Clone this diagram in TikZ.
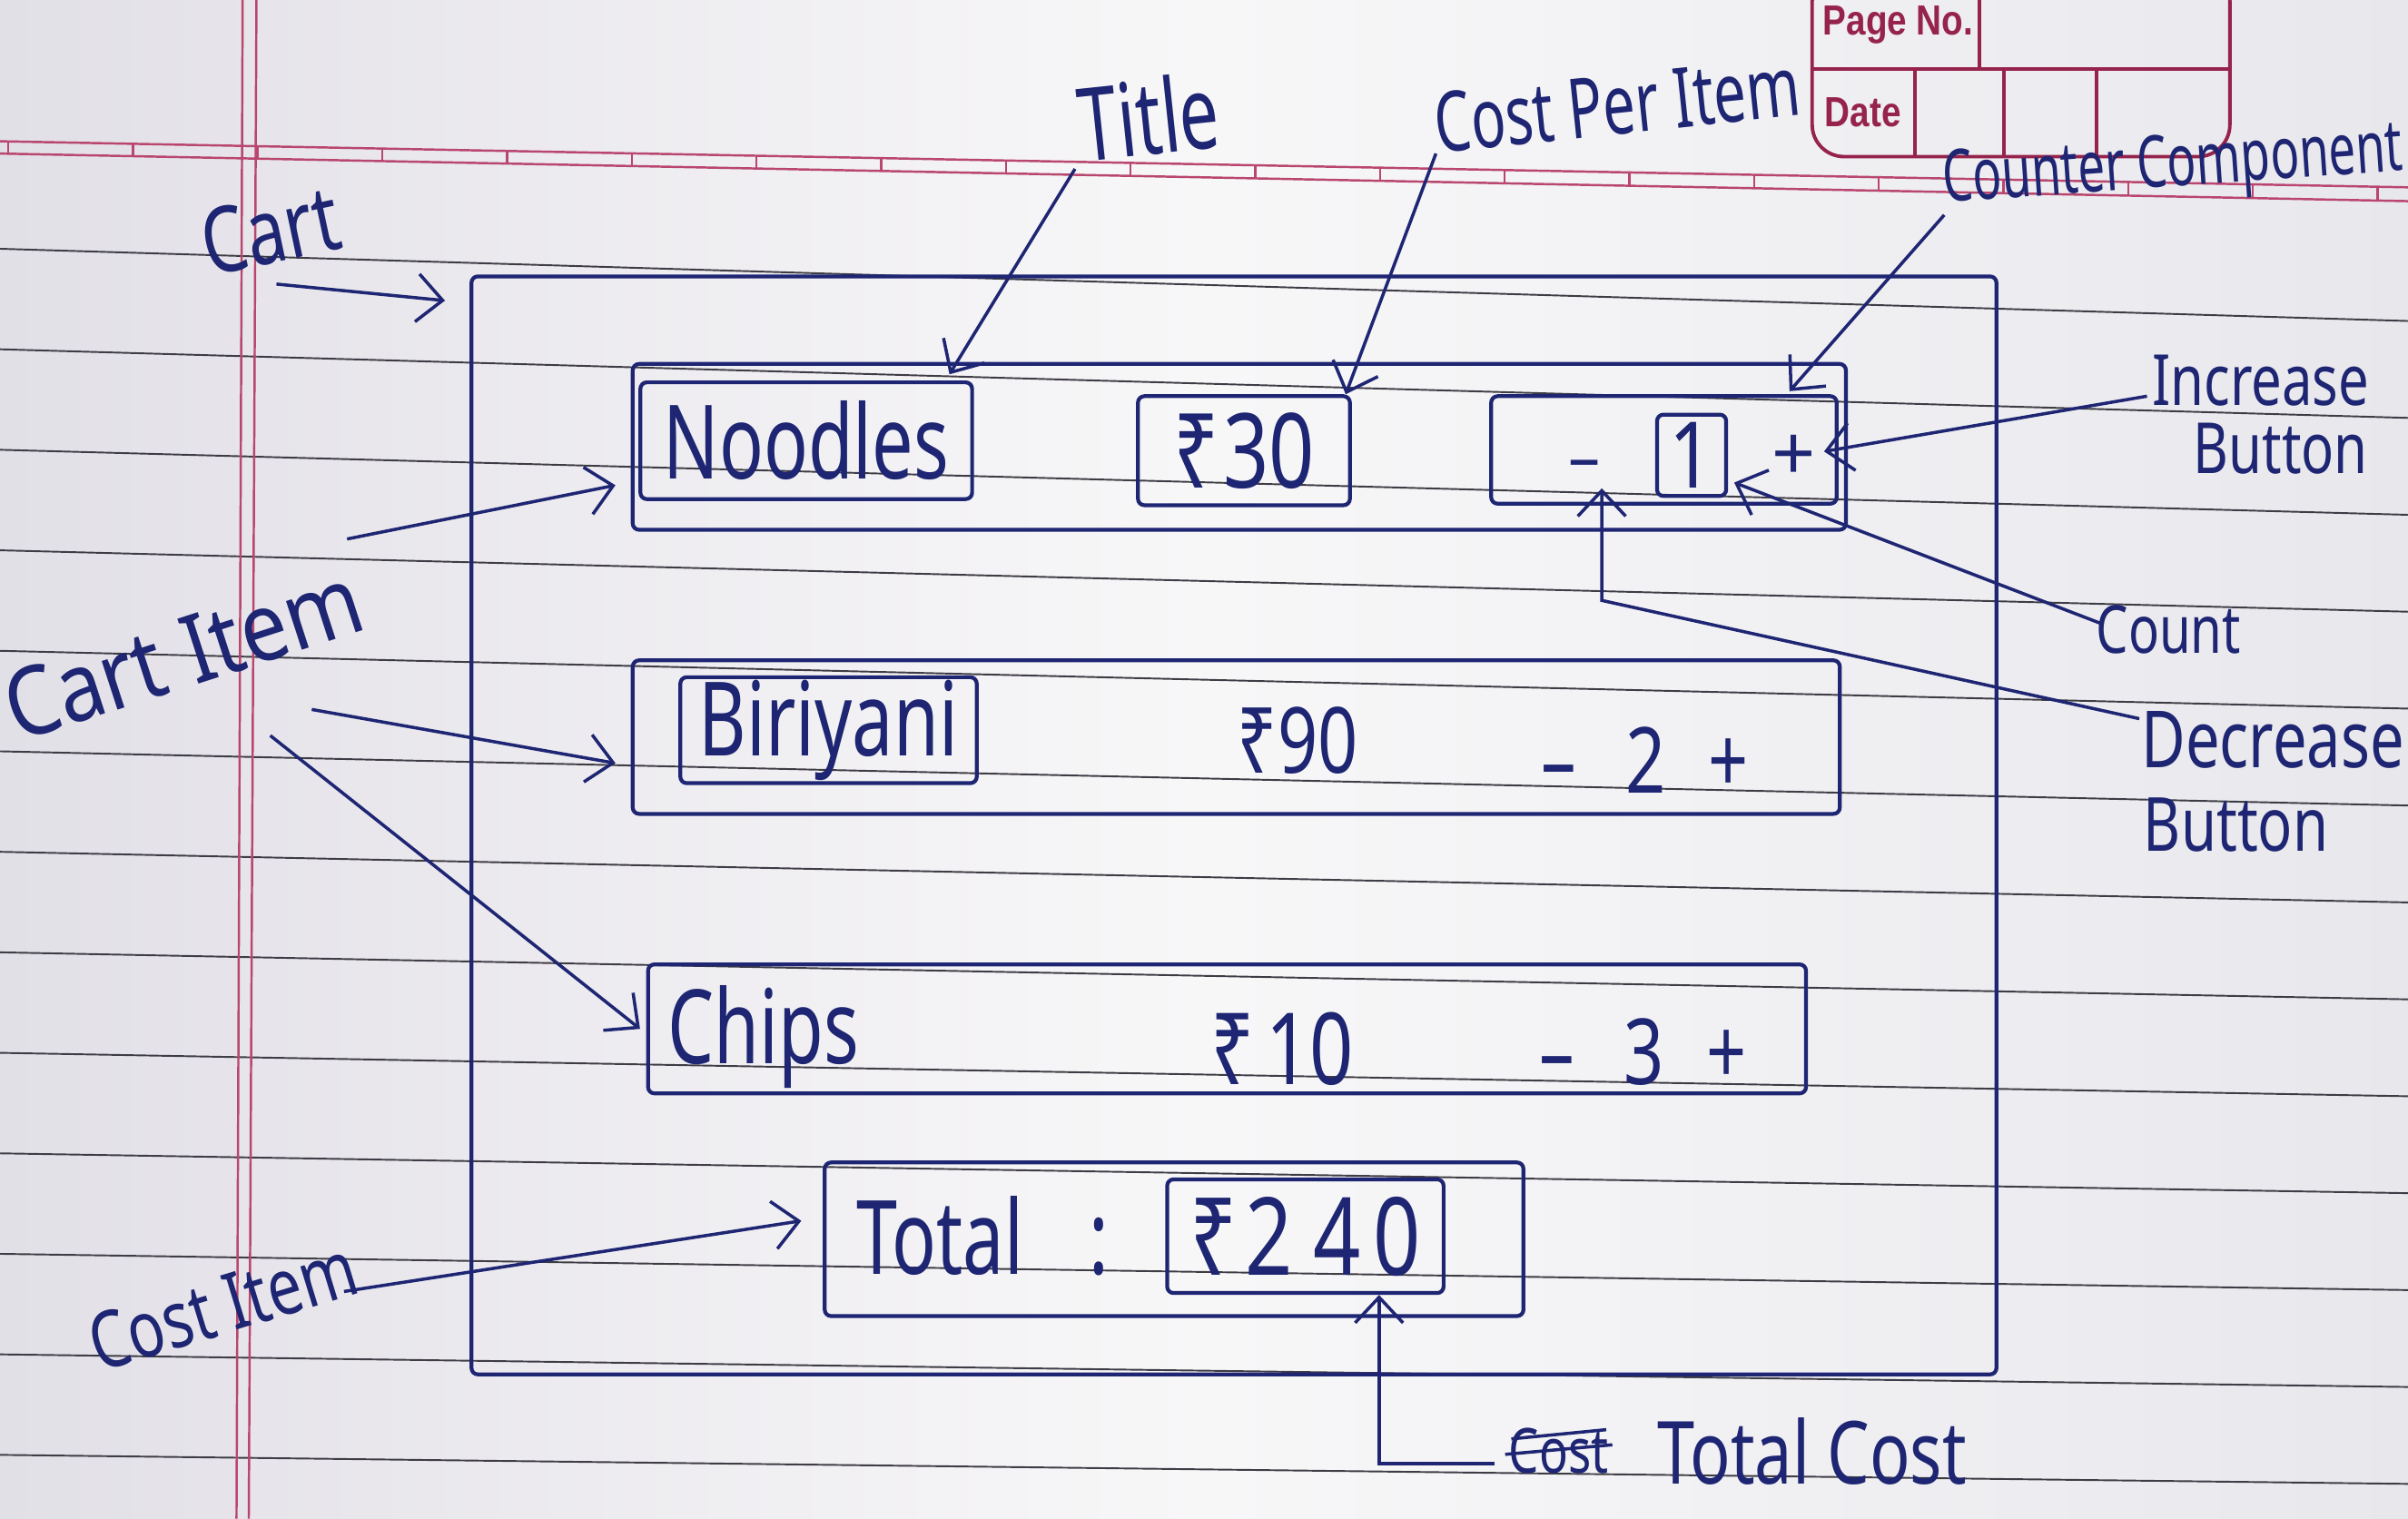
\documentclass[tikz,border=0pt]{standalone}
\usepackage{graphicx}
\usepackage{fontspec}
\setmainfont{Noto Sans}
\newfontfamily\hdrfont{Liberation Sans}
\usetikzlibrary{arrows.meta,fit,calc}
\definecolor{ink}{RGB}{30,38,115}
\definecolor{ruleline}{RGB}{62,60,68}
\definecolor{redline}{RGB}{185,70,110}
\definecolor{hdr}{RGB}{150,35,75}
\definecolor{paperL}{RGB}{226,224,231}
\definecolor{paperM}{RGB}{248,247,248}
\definecolor{paperR}{RGB}{232,231,236}
\newcommand{\tallt}[2][1.3]{\scalebox{1}[#1]{#2}}
\newcommand{\fsz}[1]{\fontsize{#1}{#1}\selectfont}
\begin{document}
\begin{tikzpicture}[x=0.016913cm, y=-0.016913cm,
  inkbox/.style={draw=ink, line width=1.2pt, inner sep=0pt, rounded corners=2pt},
  handtext/.style={text=ink, inner sep=1pt},
  conn/.style={draw=ink, line width=1pt},
  arrowconn/.style={conn, -{Straight Barb[length=8pt,width=15pt,line width=1pt]}},
  paperrule/.style={draw=ruleline, line width=0.55pt},
  marginline/.style={draw=redline, line width=0.7pt},
  hdrline/.style={draw=hdr, line width=1.1pt}]
\useasboundingbox (0,0) rectangle (1568,989);
% paper
\shade[left color=paperL, right color=paperR, middle color=paperM] (0,0) rectangle (1568,989);
\foreach \k in {0,...,12}{
  \pgfmathsetmacro{\s}{0.03-0.0015*\k}
  \pgfmathsetmacro{\ya}{165+65.3*\k-100*\s}
  \pgfmathsetmacro{\yb}{\ya+1568*\s}
  \draw[paperrule] (0,\ya) -- (1568,\yb);
}
\draw[marginline] (0,92) -- (1568,122);
\draw[marginline] (0,100) -- (1568,131);
\foreach \t in {5.4,86.6,...,1560}{
  \draw[marginline] (\t,{92+0.01913*\t}) -- (\t,{100+0.01977*\t});
}
\draw[marginline] (158,0) -- (154,989);
\draw[marginline] (167,0) -- (162,989);
% page no / date box
\draw[hdrline, rounded corners=10pt] (1180,-20) rectangle (1452,102);
\draw[hdrline] (1180,45) -- (1452,45);
\draw[hdrline] (1289,-20) -- (1289,45);
\draw[hdrline] (1247,45) -- (1247,102);
\draw[hdrline] (1305,45) -- (1305,102);
\draw[hdrline] (1365,45) -- (1365,102);
\node[text=hdr, font=\hdrfont\bfseries\fsz{11}, inner sep=0pt] (pageno) at (1236,16) {\tallt[1.2]{Page No.}};
\node[text=hdr, font=\hdrfont\bfseries\fsz{11}, inner sep=0pt] (datelbl) at (1213,73) {\tallt[1.2]{Date}};

% boxes
\node[inkbox, fit={(307,180) (1300,895)}] (cart) {};
\node[inkbox, fit={(412,237) (1202,345)}] (row1) {};
\node[inkbox, fit={(417,249) (633,325)}] (noodlesbox) {};
\node[inkbox, fit={(741,258) (879,329)}] (p1box) {};
\node[inkbox, fit={(971,258) (1196,328)}] (ctr) {};
\node[inkbox, fit={(1079,270) (1124,323)}] (countbox) {};
\node[inkbox, fit={(412,430) (1198,530)}] (row2) {};
\node[inkbox, fit={(443,441) (636,510)}] (biribox) {};
\node[inkbox, fit={(422,628) (1176,712)}] (row3) {};
\node[inkbox, fit={(537,757) (992,857)}] (totalbox) {};
\node[inkbox, fit={(760,768) (940,842)}] (sumbox) {};

% texts in boxes
\node[handtext, font=\fsz{23}] (noodles) at (noodlesbox) {\tallt[1.4]{Noodles}};
\node[handtext, font=\fsz{25}] (p1) at (p1box) {\tallt[1.3]{₹\hspace{0.05em}30}};
\node[handtext, font=\fsz{20}] (minus1) at (1032,306) {–};
\node[handtext, font=\fsz{24}] (count1) at (countbox) {\tallt[1.2]{1}};
\node[handtext, font=\fsz{24}] (plus1) at (1168,298) {+};
\node[handtext, font=\fsz{23}] (biriyani) at (biribox) {\tallt[1.4]{Biriyani}};
\node[handtext, font=\fsz{22}] (p2) at (845,482) {\tallt[1.3]{₹90}};
\node[handtext, font=\fsz{22}] (ctr2) at (1071,495) {\tallt[1.3]{–\hspace{0.7em}2\hspace{0.6em}+}};
\node[handtext, font=\fsz{23}] (chips) at (497,675) {\tallt[1.4]{Chips}};
\node[handtext, font=\fsz{24}] (p3) at (835,683) {\tallt[1.3]{₹\hspace{0.15em}10}};
\node[handtext, font=\fsz{22}] (ctr3) at (1070,685) {\tallt[1.3]{–\hspace{0.7em}3\hspace{0.6em}+}};
\node[handtext, font=\fsz{23}] (totaltxt) at (640,805) {\tallt[1.4]{Total\hspace{0.9em}:}};
\node[handtext, font=\fsz{26}] (sum) at (sumbox) {\tallt[1.3]{₹\hspace{0.1em}2\hspace{0.25em}4\hspace{0.15em}0}};

% annotation labels
\node[handtext, font=\fsz{22}, rotate=12] (cartlbl) at (176,150) {\tallt{Cart}};
\node[handtext, font=\fsz{26}, rotate=18] (cartitemA) at (55,446) {\tallt[1.15]{Cart}};
\node[handtext, font=\fsz{26}, rotate=18] (cartitemB) at (177,407) {\tallt[1.15]{Item}};
\node[handtext, font=\fsz{19}, rotate=17] (costitemlbl) at (145,850) {\tallt{Cost Item}};
\node[handtext, font=\fsz{22}, rotate=6] (titlelbl) at (748,76) {\tallt[1.45]{Title}};
\node[handtext, font=\fsz{18}, rotate=6] (cpilbl) at (1053,68) {\tallt[1.45]{Cost Per Item}};
\node[handtext, font=\fsz{15}, rotate=4] (cclbl) at (1415,110) {\tallt[1.5]{Counter Component}};
\node[handtext, font=\fsz{17}] (inclbl) at (1472,248) {\tallt{Increase}};
\node[handtext, font=\fsz{17}] (incbtn) at (1485,292) {\tallt{Button}};
\node[handtext, font=\fsz{16}] (countlbl) at (1412,410) {\tallt{Count}};
\node[handtext, font=\fsz{19}] (declbl) at (1480,482) {\tallt{Decrease}};
\node[handtext, font=\fsz{18}] (decbtn) at (1456,537) {\tallt{Button}};
\node[handtext, font=\fsz{15}] (struck) at (1015,945) {\tallt{Cost}};
\node[handtext, font=\fsz{21}] (totalcost) at (1180,945) {\tallt{Total Cost}};
\draw[conn] ([yshift=-1pt]struck.west) -- ([yshift=2pt]struck.east);
\draw[conn] ([shift={(4,-8)}]struck.west) -- ([shift={(-4,-14)}]struck.east);

% connectors
\coordinate (cartfrom) at (180,185);
\draw[arrowconn] (cartfrom) -- ([shift={(-16,17)}]cart.north west);
\coordinate (titlefrom) at (700,110);
\draw[arrowconn] (titlefrom) -- ([shift={(-16,-4)}]noodlesbox.north east);
\coordinate (cpifrom) at (935,100);
\draw[arrowconn] (cpifrom) -- ([shift={(-4,0)}]p1box.north east);
\coordinate (ccfrom) at (1266,140);
\draw[arrowconn] (ccfrom) -- ([shift={(-32,-2)}]ctr.north east);
\coordinate (incfrom) at (1398,258);
\draw[arrowconn] (incfrom) -- ([shift={(3,-4)}]plus1.east);
\coordinate (countfrom) at (1368,406);
\draw[arrowconn] (countfrom) -- ([shift={(4,-10)}]countbox.south east);
\coordinate (decfrom) at (1393,468);
\coordinate (deccorner) at (1043,391);
\coordinate (mtip) at ([shift={(0,12)}]minus1.center);
\draw[arrowconn] (decfrom) -- (deccorner) -- (deccorner |- mtip);
\coordinate (ci1) at (226,351);
\draw[arrowconn] (ci1) -- ([shift={(-10,25)}]row1.west);
\coordinate (ci2) at (203,462);
\draw[arrowconn] (ci2) -- ([shift={(-10,17)}]row2.west);
\coordinate (ci3) at (176,479);
\draw[arrowconn] (ci3) -- ([shift={(-4,0)}]row3.west);
\coordinate (cst) at (224,841);
\draw[arrowconn] (cst) -- ([shift={(-14,-12)}]totalbox.west);
\coordinate (tcfrom) at (973,953);
\coordinate (tccorner) at (898,953);
\draw[arrowconn] (tcfrom) -- (tccorner) -- (tccorner |- sumbox.south);
\end{tikzpicture}
\end{document}
